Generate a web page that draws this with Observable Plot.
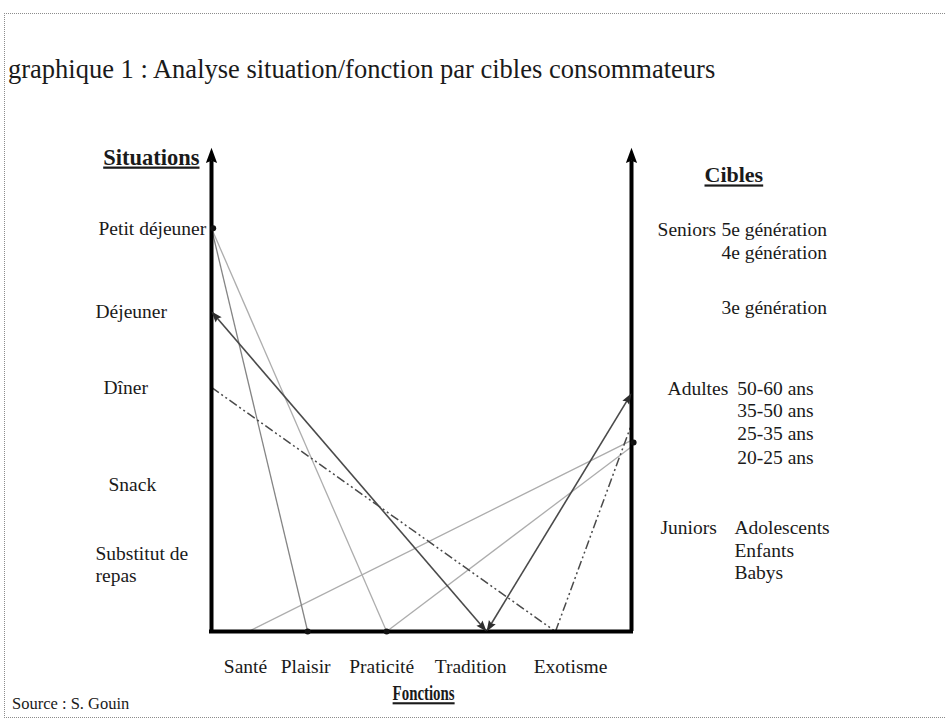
<!DOCTYPE html>
<html><head><meta charset="utf-8">
<script src="https://cdn.jsdelivr.net/npm/d3@7"></script>
<script src="https://cdn.jsdelivr.net/npm/@observablehq/plot@0.6"></script>
<style>
body{margin:0;background:#fff;font-family:"Liberation Serif","Times New Roman",serif;color:#1a1a1a;}
#wrap{position:relative;width:946px;height:721px;overflow:hidden;}
#frame{position:absolute;left:4px;top:13px;width:980px;height:703px;border-top:1px dotted #8c8c8c;border-left:1px dotted #8c8c8c;border-bottom:1px dotted #8c8c8c;}
#title{position:absolute;left:8px;top:56px;font-size:26.5px;line-height:1;white-space:nowrap;}
#source{position:absolute;left:12px;top:696px;font-size:16.5px;line-height:1;white-space:nowrap;}
#chart{position:absolute;left:0;top:0;}
</style></head><body>
<div id="wrap">
<div id="frame"></div>
<div id="title">graphique 1 : Analyse situation/fonction par cibles consommateurs</div>
<div id="chart"></div>
<div id="source">Source : S. Gouin</div>
</div>
<script>
// ---- data ----
const situations = ["Petit déjeuner", "Déjeuner", "Dîner", "Snack", "Substitut de\nrepas"];
const situationLevels = [96, 76.2, 58.1, 35.2, 16.0];
const fonctions = ["Santé", "Plaisir", "Praticité", "Tradition", "Exotisme"];
const fonctionPositions = [8.8, 22.9, 41.7, 65.5, 81.9];
const cibleGroups = ["Seniors", "Adultes", "Juniors"];
const cibles = ["5e génération", "4e génération", "3e génération", "50-60 ans", "35-50 ans", "25-35 ans", "20-25 ans", "Adolescents", "Enfants", "Babys"];
const cibleGroupOf = ["Seniors", "Seniors", "Seniors", "Adultes", "Adultes", "Adultes", "Adultes", "Juniors", "Juniors", "Juniors"];
const cibleLevels = [95.7, 90.2, 77.1, 57.9, 52.6, 47.1, 41.4, 24.8, 19.3, 14.0];
// situation -> fonction links
const situationLinks = [
  {situation: "Petit déjeuner", fonction: "Plaisir", trait: "moyen"},
  {situation: "Petit déjeuner", fonction: "Praticité", trait: "clair"},
  {situation: "Déjeuner", fonction: "Tradition", trait: "fonce"},
  {situation: "Dîner", fonction: "Exotisme", trait: "mixte"}
];
// fonction -> cible links (level reached on the right axis)
const cibleLinks = [
  {fonction: "Santé", niveau: 45.5, trait: "clair"},
  {fonction: "Praticité", niveau: 44.0, trait: "clair"},
  {fonction: "Tradition", niveau: 56.7, trait: "fonce"},
  {fonction: "Exotisme", niveau: 49.3, trait: "mixte"}
];
const markedSituations = ["Petit déjeuner"];
const markedFonctions = ["Plaisir", "Praticité"];
const markedCibleLevels = [45.0];

// ---- layout / styles ----
const situationIndent = {"Petit déjeuner": 3, "Déjeuner": 0, "Dîner": 8, "Snack": 13, "Substitut de\nrepas": 0};
const fonctionLabelDx = {"Santé": -3, "Plaisir": -2, "Praticité": -5, "Tradition": -16, "Exotisme": 15};
const groupLayout = {Seniors: {labelX: 106.2, itemX: 121.4}, Adultes: {labelX: 108.6, itemX: 125.2}, Juniors: {labelX: 106.9, itemX: 124.5}};
const traits = {
  clair: {stroke: "#adadad", strokeWidth: 1.3},
  moyen: {stroke: "#858585", strokeWidth: 1.3},
  fonce: {stroke: "#4a4a4a", strokeWidth: 1.6},
  mixte: {stroke: "#4a4a4a", strokeWidth: 1.5, strokeDasharray: "9,3,2,3,2,3"}
};

const sitLevel = Object.fromEntries(situations.map((s, i) => [s, situationLevels[i]]));
const fonPos = Object.fromEntries(fonctions.map((f, i) => [f, fonctionPositions[i]]));

const segments = [
  ...situationLinks.map(d => ({x1: 0, y1: sitLevel[d.situation], x2: fonPos[d.fonction], y2: 0, trait: d.trait})),
  ...cibleLinks.map(d => ({x1: fonPos[d.fonction], y1: 0, x2: 100, y2: d.niveau, trait: d.trait}))
];
const heads = segments.filter(d => d.trait === "fonce").flatMap(d => [
  {x: d.x2, y: d.y2, a: Math.atan2(d.x2 - d.x1, d.y2 - d.y1) * 180 / Math.PI},
  {x: d.x1, y: d.y1, a: Math.atan2(d.x1 - d.x2, d.y1 - d.y2) * 180 / Math.PI}
]);
const points = [
  ...markedSituations.map(s => ({x: 0.4, y: sitLevel[s]})),
  ...markedFonctions.map(f => ({x: fonPos[f], y: 0})),
  ...markedCibleLevels.map(l => ({x: 100.5, y: l}))
];

const makeHead = (wr, hr, notch) => ({
  draw(ctx, size) {
    const r = Math.sqrt(size / Math.PI), w = r * wr, h = r * hr;
    ctx.moveTo(0, 0); ctx.lineTo(w, h); ctx.lineTo(0, h * notch); ctx.lineTo(-w, h); ctx.closePath();
  }
});
const axisHead = makeHead(0.8, 2.2, 0.85);
const lineHead = makeHead(0.8, 2.2, 0.85);

const ink = "#1a1a1a";
const fs = 19.5;

const chart = Plot.plot({
  width: 946, height: 721, margin: 0,
  x: {domain: [0, 100], range: [211, 631], axis: null},
  y: {domain: [0, 100], range: [631, 211], axis: null},
  style: {fontFamily: "Liberation Serif, Times New Roman, serif", background: "transparent", overflow: "visible"},
  marks: [
    ...Object.entries(traits).map(([k, st]) =>
      Plot.link(segments.filter(d => d.trait === k), {x1: "x1", y1: "y1", x2: "x2", y2: "y2", ...st})),
    Plot.ruleX([0, 100], {y1: 0, y2: 112, stroke: "black", strokeWidth: 4}),
    Plot.ruleY([0], {x1: 0, x2: 100, stroke: "black", strokeWidth: 4, strokeLinecap: "square"}),
    Plot.dot([0, 100], {x: d => d, y: 115.2, symbol: axisHead, r: 7, fill: "black", stroke: "none"}),
    Plot.dot(heads, {x: "x", y: "y", rotate: "a", symbol: lineHead, r: 5, fill: "#2e2e2e", stroke: "none"}),
    Plot.dot(points, {x: "x", y: "y", r: 3, fill: "#111", stroke: "none"}),
    // situation labels
    Plot.text(situations, {x: 0, y: (d, i) => situationLevels[i], text: d => d, textAnchor: "start",
      fontSize: fs, fill: ink, lineHeight: 1.1}),
    // fonction labels
    Plot.text(fonctions, {x: (d, i) => fonctionPositions[i], y: 0, text: d => d, dy: 35, fontSize: fs, fill: ink}),
    // cible group labels
    Plot.text(cibleGroups, {x: d => groupLayout[d].labelX, y: d => cibleLevels[cibleGroupOf.indexOf(d)], text: d => d, textAnchor: "start", fontSize: fs, fill: ink}),
    Plot.text(cibles, {x: (d, i) => groupLayout[cibleGroupOf[i]].itemX, y: (d, i) => cibleLevels[i], text: d => d, textAnchor: "start", fontSize: fs, fill: ink}),
    // axis titles
    Plot.text(["Situations"], {x: 0, y: 112.9, text: d => d, textAnchor: "end", dx: -12, fontSize: 22.5, fontWeight: "bold", fill: ink}),
    Plot.text(["Cibles"], {x: 100, y: 108.6, text: d => d, textAnchor: "start", dx: 73, fontSize: 22, fontWeight: "bold", fill: ink}),
    Plot.text(["Fonctions"], {x: 50.5, y: 0, text: d => d, dy: 62, fontSize: 21, fontWeight: "bold", fill: ink})
  ]
});

const svg = d3.select(chart);
svg.selectAll("text").each(function() {
  const t = this.textContent;
  if (["Situations", "Cibles", "Fonctions"].includes(t)) d3.select(this).style("text-decoration", "underline");
  if (t === "Fonctions") { this.setAttribute("textLength", 62); this.setAttribute("lengthAdjust", "spacingAndGlyphs"); }
});
document.getElementById("chart").appendChild(chart);

// place situation labels in their left column, nudge fonction labels
svg.selectAll("text").each(function() {
  const plain = this.textContent;
  const k = Object.keys(situationIndent).find(s => s.replace("\n", "") === plain);
  if (k !== undefined) {
    const left = 95 + situationIndent[k];
    const tr = this.getAttribute("transform") || "";
    const m = tr.match(/translate\(([^,]+),([^)]+)\)/);
    if (m) this.setAttribute("transform", `translate(${left},${m[2]})`);
    else { this.setAttribute("x", left); this.querySelectorAll("tspan").forEach(ts => ts.setAttribute("x", left)); }
  }
  const fk = Object.keys(fonctionLabelDx).find(s => s === plain);
  if (fk !== undefined) {
    const tr = this.getAttribute("transform") || "";
    const m = tr.match(/translate\(([^,]+),([^)]+)\)/);
    if (m) this.setAttribute("transform", `translate(${+m[1] + fonctionLabelDx[fk]},${m[2]})`);
    else this.setAttribute("x", +this.getAttribute("x") + fonctionLabelDx[fk]);
  }
});
</script>
</body></html>
